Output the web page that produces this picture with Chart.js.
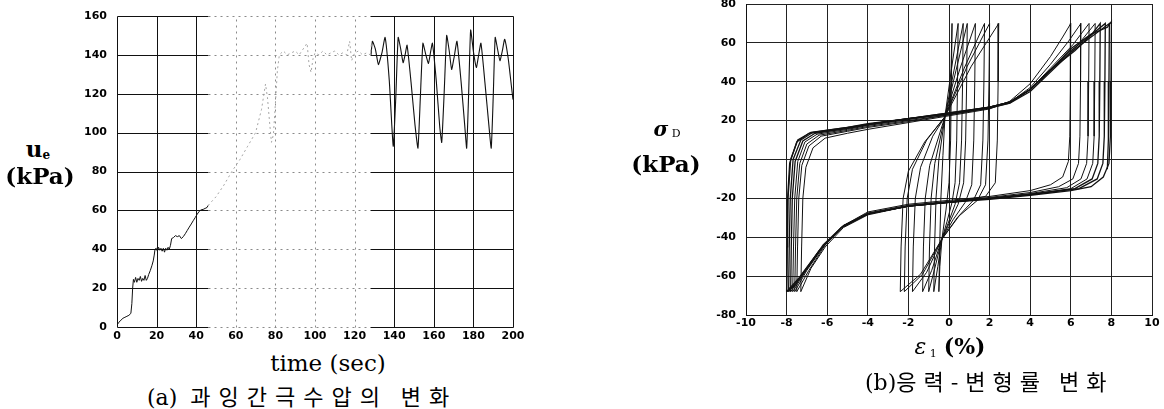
<!DOCTYPE html>
<html>
<head>
<meta charset="utf-8">
<script src="https://cdn.jsdelivr.net/npm/chart.js@4.4.1/dist/chart.umd.min.js"></script>
<style>
  html, body { margin: 0; padding: 0; background: #fff; }
  body { position: relative; width: 1164px; height: 409px; overflow: hidden; }
  canvas { position: absolute; display: block; }
  .lbl { position: absolute; white-space: nowrap; color: #000; line-height: 1; transform: translate(-50%, -50%); }
  .serif { font-family: "DejaVu Serif", "Liberation Serif", serif; }
  .bold { font-weight: bold; }
  .cap { font-family: "Noto Sans CJK KR", sans-serif; font-size: 22px; transform: translate(0, -50%); }
  .cap .lat { font-family: "DejaVu Serif", serif; letter-spacing: 0; }
</style>
</head>
<body>
<canvas id="chartA" width="470" height="347" style="left:60px;top:0"></canvas>
<canvas id="chartB" width="484" height="335" style="left:680px;top:0"></canvas>

<div class="lbl serif bold" style="left:38px;top:149px;font-size:23px">u<span style="font-size:12px;vertical-align:-2px">e</span></div>
<div class="lbl serif bold" style="left:40px;top:175px;font-size:23px">(kPa)</div>
<div class="lbl serif" style="left:328px;top:363px;font-size:23px">time (sec)</div>
<div class="lbl cap" style="left:147px;top:396px;letter-spacing:8px"><span class="lat">(a)</span> 과잉간극수압의 변화</div>

<div class="lbl serif bold" style="left:667px;top:129px;font-size:20px"><i>σ</i><span style="font-size:11px;vertical-align:-1px;font-weight:normal"> D</span></div>
<div class="lbl serif bold" style="left:666px;top:163px;font-size:23px">(kPa)</div>
<div class="lbl serif" style="left:950px;top:347px;font-size:22px"><i>ε</i><span style="font-size:11px;vertical-align:-3px"> 1</span> <b>(%)</b></div>
<div class="lbl cap" style="left:865px;top:381px;letter-spacing:7px"><span class="lat">(b)</span>응력-변형률 변화</div>

<script>
// ---- (a) excess pore-water pressure u_e (kPa) against time (sec) ----
const timeStart = [0,1,2,3,4,5,6,7,7.5,7.9,8.3,8.8,9.4,10,10.6,11.2,11.8,12.4,13,13.6,14.2,14.8,15.4,16,16.8,17.6,18.3,18.8,19.2,19.8,20.4,21,21.6,22.2,22.8,23.4,24,24.6,25.2,25.8,26.4,27,27.6,28.5,29.5,30.5,31.5,32.5,33.5,34.5,35.5,36.5,37.5,38.5,39.5,40.5,41.5,42.5,43.5,44.5,45.5,46];
const ueStart   = [1,2.5,3.5,4.5,5,5.5,6,7,12,20,24.5,23,25.5,23,25,24,26,23.5,25,24,26.5,24,25,27,29,31.5,34,37,40,40.5,39,41,39.5,40.5,39,40.5,38.5,40.5,39.5,41,40,42,45.5,46,47,46.5,47,45.5,46.5,48,49.7,51.4,53,54.7,56.3,58,59.5,60.3,60.5,61,61.5,62.5];

// faintly printed stretch of the record
const timeMid = [46,50,54,58,62,66,70,73,75,76,77,78,79,80,81,82,84,86,88,90,92,94,96,97,98,99,100,102,104,106,108,110,112,114,116,117.5,118.5,120,122,124,126,128,128.6];
const ueMid   = [62.5,67,73,80,86,93,100,112,125,118,106,95,99,115,132,140,142,140,141,142,140,143,146,135,131,138,141,140,142,140,141,142,140,141,140,147,137,141,142,140,141,140,147];

const timeEnd = [128.3,129,130.5,132,133.8,135.4,137.5,139.5,140.8,142,143.3,144.5,145.5,146.5,148.5,150.5,152,153.2,154.5,156,157.3,158.3,159.3,161.3,163,164,165.3,166.5,167.8,169,170.3,171.7,173.8,175.6,176.6,177.6,178.6,180.1,181.5,182.5,183.8,185.8,187.8,189,190,191,192.2,193.4,194.6,195.8,197.6,199.3,200];
const ueEnd   = [140,147,143,135,141,149,127,93,118,149,143,136,140,145,126,104,92,118,146,140,135.6,141,146,126,103,95,122,150,142,132.5,139,147,126,104,92,120,152.8,141,133.5,139,146,126,104,92,118,149,143,137,142,148,138,123,117];

const timeTicks = [0,20,40,60,80,100,120,140,160,180,200];
const ueTicks   = [0,20,40,60,80,100,120,140,160];

// ---- (b) deviator stress sigma_D (kPa) against axial strain eps_1 (%) ----
// each loop: [strain, stress] pairs, one loading and unloading cycle
const loop01 = [[0,0],[0.05,20],[0.1,45],[0.15,70],[0.12,40],[0.08,10],[0,-12],[-0.15,-26],[-0.35,-41],[-0.45,-55],[-0.5,-68]];
const loop02 = [[-0.5,-68],[-0.46,-45],[-0.4,-20],[-0.3,2],[-0.2,22],[0.1,45],[0.45,70],[0.42,40],[0.38,10],[0.3,-12],[0.15,-22],[-0.1,-32],[-0.35,-41],[-0.55,-55],[-0.75,-68]];
const loop03 = [[-0.75,-68],[-0.71,-45],[-0.64,-20],[-0.5,0],[-0.2,22],[0.25,46],[0.7,70],[0.67,40],[0.62,10],[0.52,-12],[0.3,-23],[-0.05,-33],[-0.35,-41],[-0.7,-56],[-1.0,-68]];
const loop04 = [[-1.0,-68],[-0.96,-45],[-0.88,-20],[-0.7,-2],[-0.2,22],[0.35,46],[0.9,70],[0.87,40],[0.82,10],[0.72,-12],[0.45,-23],[0,-33],[-0.35,-41],[-0.85,-57],[-1.3,-68]];
const loop05 = [[-1.3,-68],[-1.26,-45],[-1.17,-20],[-0.95,-3],[-0.2,22],[0.55,47],[1.3,70],[1.27,40],[1.22,10],[1.12,-13],[0.8,-22],[0.2,-31],[-0.35,-41],[-1.1,-58],[-1.8,-68]];
const loop06 = [[-1.8,-68],[-1.76,-45],[-1.66,-20],[-1.4,-4],[-0.8,12],[-0.2,22],[0.75,47],[1.75,70],[1.72,40],[1.67,10],[1.56,-13],[1.2,-21],[0.4,-30],[-0.35,-41],[-1.3,-59],[-2.2,-68]];
const loop07 = [[-2.2,-68],[-2.16,-45],[-2.06,-20],[-1.8,-5],[-1.1,10],[-0.2,22],[0.9,48],[2.0,70],[1.97,40],[1.92,10],[1.8,-13],[1.4,-21],[0.5,-29],[-0.35,-41],[-1.4,-59],[-2.4,-68]];
const loop08 = [[-2.4,-68],[-2.36,-45],[-2.26,-20],[-2.0,-6],[-1.2,9],[-0.2,22],[1.1,48],[2.45,70],[2.42,40],[2.38,10],[2.28,-12],[1.8,-19],[0,-22],[-2,-24],[-4,-28.5],[-5.2,-35],[-6.1,-45],[-6.8,-56],[-7.3,-68]];
const loop09 = [[-7.3,-68],[-7.26,-45],[-7.2,-20],[-7.05,-4],[-6.7,6],[-6.1,11],[-5,13.5],[-4,15.5],[-2,19],[0,22.5],[2,26],[3,30],[4,39],[5,53],[5.6,63],[6.0,70],[5.98,40],[5.95,12],[5.88,-1],[5.6,-9],[5,-13],[4,-16],[2,-19],[0,-21],[-2,-23],[-4,-27],[-5.2,-34],[-6.1,-44],[-6.9,-57],[-7.5,-68]];
const loop10 = [[-7.5,-68],[-7.46,-45],[-7.4,-20],[-7.25,-3],[-6.9,7],[-6.3,12],[-5,14.5],[-4,16.5],[-2,19.5],[0,23],[2,26.5],[3,29.5],[4,37],[5,49],[5.9,61],[6.5,70],[6.48,40],[6.45,12],[6.38,-2],[6.1,-10],[5.4,-14],[4,-17],[2,-19.5],[0,-21.5],[-2,-23.5],[-4,-27.5],[-5.2,-34],[-6.2,-45],[-7.0,-57],[-7.6,-68]];
const loop11 = [[-7.6,-68],[-7.56,-45],[-7.5,-20],[-7.35,-2],[-7.0,8],[-6.4,12.5],[-5,15],[-4,17],[-2,20],[0,23],[2,26.5],[3,29],[4,36],[5,47],[6.1,59],[6.9,70],[6.88,40],[6.85,12],[6.78,-2],[6.5,-10],[5.8,-14.5],[4,-17.5],[2,-20],[0,-22],[-2,-24],[-4,-28],[-5.3,-35],[-6.3,-46],[-7.1,-58],[-7.7,-68]];
const loop12 = [[-7.7,-68],[-7.66,-45],[-7.6,-20],[-7.45,-1],[-7.1,9],[-6.5,13],[-5,15.5],[-4,17.5],[-2,20.5],[0,23.5],[2,27],[3,29.5],[4,36],[5,46],[6.2,57],[7.2,70],[7.18,40],[7.15,12],[7.08,-2],[6.8,-10],[6.0,-15],[4,-18],[2,-20],[0,-22],[-2,-24],[-4,-28],[-5.3,-35],[-6.3,-46],[-7.2,-59],[-7.8,-68]];
const loop13 = [[-7.8,-68],[-7.77,-45],[-7.72,-20],[-7.58,-1],[-7.2,9.5],[-6.6,13.5],[-5,16],[-4,18],[-2,21],[0,23.5],[2,27],[3,29.5],[4,36],[5,46],[6.2,56],[7.0,64],[7.45,70],[7.43,40],[7.4,12],[7.33,-2],[7.05,-10],[6.2,-15],[4,-18],[2,-20],[0,-22],[-2,-24],[-4,-28],[-5.3,-35],[-6.4,-47],[-7.3,-60],[-7.9,-68]];
const loop14 = [[-7.9,-68],[-7.87,-45],[-7.82,-20],[-7.68,0],[-7.3,10],[-6.7,14],[-5,16.5],[-4,18.5],[-2,21],[0,24],[2,27],[3,29.5],[4,36],[5,46],[6,56],[7,64],[7.7,70],[7.68,40],[7.65,12],[7.58,-2],[7.3,-10],[6.4,-15],[4,-18],[2,-20],[0,-22],[-2,-24],[-4,-28],[-5.3,-35],[-6.4,-47],[-7.4,-61],[-8.0,-68]];
const loop15 = [[-8.0,-68],[-7.97,-45],[-7.93,-20],[-7.8,0],[-7.45,10],[-6.8,14],[-5,16.5],[-4,18],[-2,21],[0,24],[2,27],[3,29.5],[4,36],[5,46],[6,57],[7,64.5],[7.8,68],[8.0,71],[7.98,40],[7.95,12],[7.88,-2],[7.6,-9],[7.0,-14],[6,-16],[4,-18.5],[2,-20.5],[0,-22],[-2,-24],[-4,-28],[-5.2,-34],[-6.2,-44],[-7.0,-56],[-7.6,-65],[-8.0,-68]];
const loop16 = [[-8.0,-68],[-7.98,-45],[-7.95,-20],[-7.85,-2],[-7.5,9],[-6.9,13.5],[-5,16],[-4,18],[-2,21],[0,23.5],[2,26.5],[3,29],[4,35],[5,45],[6,55],[7,63],[7.9,70],[7.88,40],[7.85,10],[7.8,-5]];

const strainTicks = [-10,-8,-6,-4,-2,0,2,4,6,8,10];
const stressTicks = [-80,-60,-40,-20,0,20,40,60,80];

// ---- helpers ----
const toXY = (xs, ys) => xs.map((x, i) => ({ x, y: ys[i] }));
const pairsToXY = pairs => pairs.map(p => ({ x: p[0], y: p[1] }));
const tickFont = { family: '"DejaVu Sans", "Liberation Sans", sans-serif', size: 11, weight: 'bold' };
const setTicks = list => scale => { scale.ticks = list.map(v => ({ value: v })); };
const fixHeight = h => scale => { scale.height = h; scale.paddingLeft = 0; scale.paddingRight = 0; };
const fixWidth = w => scale => { scale.width = w; scale.paddingTop = 0; scale.paddingBottom = 0; };

// grid for (a): solid where the record is printed dark, dotted across the faint stretch
const sketchGrid = {
  id: 'sketchGrid',
  beforeDatasetsDraw(chart, args, opts) {
    const { ctx, scales: { x, y } } = chart;
    const px = v => Math.round(x.getPixelForValue(v)) + 0.5;
    const py = v => Math.round(y.getPixelForValue(v)) + 0.5;
    const seg = (x0, y0, x1, y1, faint) => {
      ctx.save();
      ctx.strokeStyle = faint ? '#8a8a8a' : '#111';
      ctx.lineWidth = 1;
      ctx.setLineDash(faint ? [2, 4] : []);
      ctx.beginPath(); ctx.moveTo(x0, y0); ctx.lineTo(x1, y1); ctx.stroke();
      ctx.restore();
    };
    ueTicks.forEach(v => {
      seg(px(0), py(v), px(opts.faintFrom), py(v), false);
      seg(px(opts.faintFrom), py(v), px(opts.faintTo), py(v), true);
      seg(px(opts.faintTo), py(v), px(200), py(v), false);
    });
    timeTicks.forEach(v => {
      const faint = v > opts.faintFrom && v < opts.faintTo;
      seg(px(v), py(0), px(v), py(160), faint);
    });
  }
};

const lineSet = (data, color, width, extra) => Object.assign({
  data, showLine: true, borderColor: color, borderWidth: width, pointRadius: 0, fill: false, tension: 0
}, extra || {});

new Chart(document.getElementById('chartA'), {
  type: 'scatter',
  data: {
    datasets: [
      lineSet(toXY(timeStart, ueStart), '#111', 1),
      lineSet(toXY(timeMid, ueMid), '#a5a5a5', 1, { borderDash: [2, 3] }),
      lineSet(toXY(timeEnd, ueEnd), '#111', 1.1, { tension: 0.15 })
    ]
  },
  options: {
    responsive: false, animation: false, events: [],
    layout: { padding: { left: 0, right: 17, top: 16, bottom: 0 } },
    plugins: { legend: { display: false }, tooltip: { enabled: false }, sketchGrid: { faintFrom: 46, faintTo: 128 } },
    scales: {
      x: {
        type: 'linear', min: 0, max: 200,
        afterBuildTicks: setTicks(timeTicks), afterFit: fixHeight(20),
        grid: { display: false, drawTicks: false }, border: { display: false },
        ticks: { font: tickFont, color: '#000', padding: 3, maxRotation: 0, autoSkip: false }
      },
      y: {
        min: 0, max: 160,
        afterBuildTicks: setTicks(ueTicks), afterFit: fixWidth(57),
        grid: { display: false, drawTicks: false }, border: { display: false },
        ticks: { font: tickFont, color: '#000', padding: 10 }
      }
    }
  },
  plugins: [sketchGrid]
});

const loops = [loop01, loop02, loop03, loop04, loop05, loop06, loop07, loop08,
               loop09, loop10, loop11, loop12, loop13, loop14, loop15, loop16];

new Chart(document.getElementById('chartB'), {
  type: 'scatter',
  data: {
    datasets: loops.map((lp, i) => lineSet(pairsToXY(lp), '#111', i >= 12 ? 1.3 : 1))
  },
  options: {
    responsive: false, animation: false, events: [],
    layout: { padding: { left: 0, right: 12, top: 4, bottom: 0 } },
    plugins: { legend: { display: false }, tooltip: { enabled: false } },
    scales: {
      x: {
        type: 'linear', min: -10, max: 10,
        afterBuildTicks: setTicks(strainTicks), afterFit: fixHeight(20),
        grid: { color: '#222', lineWidth: 1, drawTicks: false }, border: { color: '#111' },
        ticks: { font: tickFont, color: '#000', padding: 2, maxRotation: 0, autoSkip: false }
      },
      y: {
        min: -80, max: 80,
        afterBuildTicks: setTicks(stressTicks), afterFit: fixWidth(66),
        grid: { color: '#222', lineWidth: 1, drawTicks: false }, border: { color: '#111' },
        ticks: { font: tickFont, color: '#000', padding: 10 }
      }
    }
  }
});
</script>
</body>
</html>
